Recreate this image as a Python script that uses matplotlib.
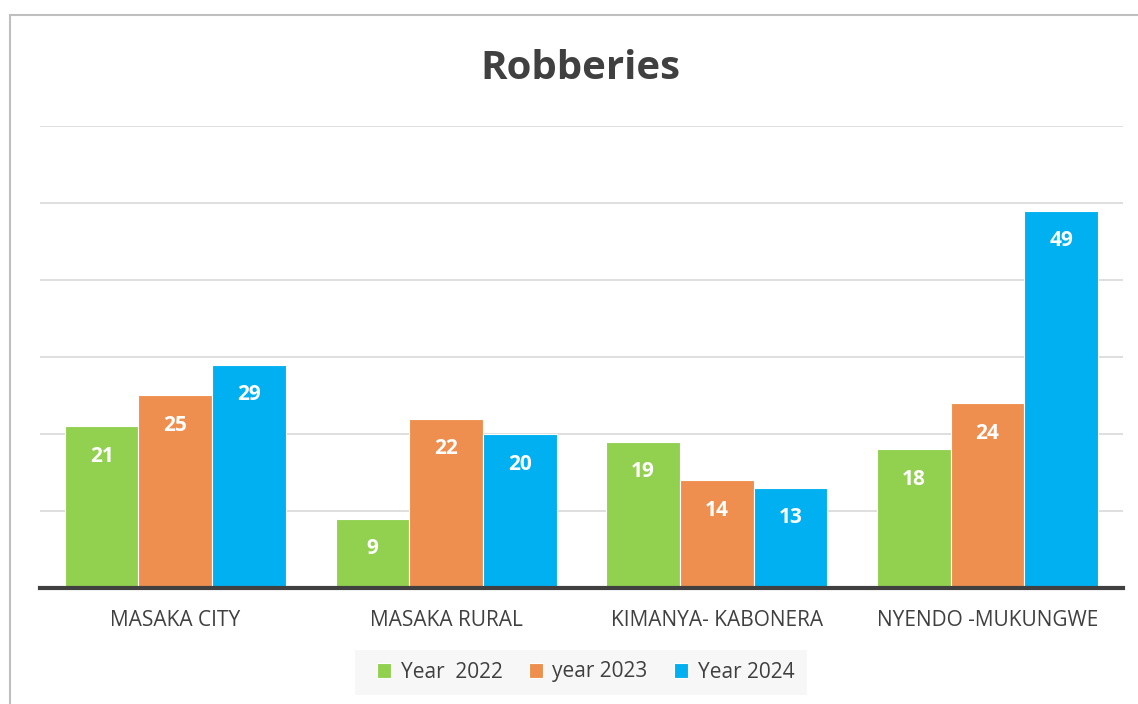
import matplotlib.pyplot as plt
import numpy as np
from matplotlib.patches import Rectangle

plt.rcParams['font.family'] = ['Open Sans', 'DejaVu Sans']

categories = ["MASAKA CITY", "MASAKA RURAL", "KIMANYA- KABONERA", "NYENDO -MUKUNGWE"]
series_names = ["Year  2022", "year 2023", "Year 2024"]
year_2022 = [21, 9, 19, 18]
year_2023 = [25, 22, 14, 24]
year_2024 = [29, 20, 13, 49]
colors = ["#92D050", "#EE8F4F", "#00B0F0"]

W, H = 1138, 704
fig = plt.figure(figsize=(W / 100, H / 100), dpi=100)
ax = fig.add_axes([0.0351, 0.1648, 0.9517, 0.6562])

x = np.arange(len(categories))
width = 0.272
for i, (vals, col, name) in enumerate(zip([year_2022, year_2023, year_2024], colors, series_names)):
    pos = x + (i - 1) * width
    bars = ax.bar(pos, vals, width, color=col, edgecolor="white", linewidth=0.8,
                  label=name, zorder=2)
    for b, v in zip(bars, vals):
        ax.text(b.get_x() + b.get_width() / 2, v - 3.9, str(v), ha="center", va="center",
                color="white", fontsize=15, fontweight="bold", zorder=3)

ax.set_xlim(-0.5, 3.5)
ax.set_ylim(0, 60)
ax.set_yticks(np.arange(0, 61, 10))
ax.yaxis.grid(True, color="#D9D9D9", linewidth=1.2, zorder=0)
ax.set_axisbelow(True)
ax.tick_params(axis="y", left=False, labelleft=False)
ax.tick_params(axis="x", bottom=False, pad=12)
ax.set_xticks(x)
ax.set_xticklabels(categories, fontsize=15, color="#404040")
for s in ["top", "right", "left"]:
    ax.spines[s].set_visible(False)
ax.spines["bottom"].set_color("#404040")
ax.spines["bottom"].set_linewidth(3)
ax.spines["bottom"].set_zorder(4)

fig.text(0.51, 0.902, "Robberies", ha="center", va="center", fontsize=29,
         fontweight="bold", color="#404040")

# outer chart frame
fig.patches.append(Rectangle((10 / W, -0.1), 1.2, 1 - 15 / H + 0.1,
                             transform=fig.transFigure, fill=False,
                             edgecolor="#BFBFBF", linewidth=1.5))

# legend background panel
fig.patches.append(Rectangle((355 / W, 1 - 695 / H), 452 / W, 45 / H,
                             transform=fig.transFigure, facecolor="#F7F7F7",
                             edgecolor="none", zorder=0))

leg = fig.legend(loc="center", bbox_to_anchor=(0.5145, 1 - 672 / H), ncol=3, frameon=False,
                 fontsize=15, handlelength=0.7, handleheight=0.7, handletextpad=0.45,
                 columnspacing=1.25, borderpad=0, borderaxespad=0)
for t in leg.get_texts():
    t.set_color("#404040")

fig.savefig("out.png", dpi=100)
